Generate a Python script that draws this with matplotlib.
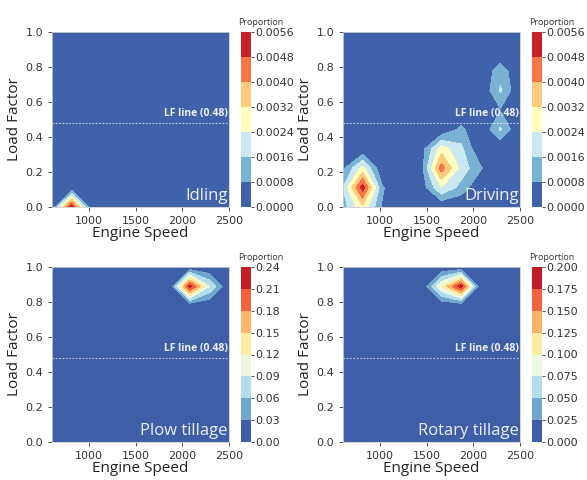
import numpy as np
import matplotlib.pyplot as plt
from matplotlib.ticker import FormatStrFormatter

# grid of bin centres
speed = [600, 811, 1022, 1233, 1444, 1656, 1867, 2078, 2289, 2500]
load = [0.0, 0.111, 0.222, 0.333, 0.444, 0.556, 0.667, 0.778, 0.889, 1.0]

# proportion of time per (load, speed) bin, rows follow `load`
idling = [
    [0, 0.0054, 0, 0, 0, 0, 0, 0, 0, 0],
    [0, 0, 0, 0, 0, 0, 0, 0, 0, 0],
    [0, 0, 0, 0, 0, 0, 0, 0, 0, 0],
    [0, 0, 0, 0, 0, 0, 0, 0, 0, 0],
    [0, 0, 0, 0, 0, 0, 0, 0, 0, 0],
    [0, 0, 0, 0, 0, 0, 0, 0, 0, 0],
    [0, 0, 0, 0, 0, 0, 0, 0, 0, 0],
    [0, 0, 0, 0, 0, 0, 0, 0, 0, 0],
    [0, 0, 0, 0, 0, 0, 0, 0, 0, 0],
    [0, 0, 0, 0, 0, 0, 0, 0, 0, 0],
]
driving = [
    [0.0012, 0.0030, 0.0007, 0, 0, 0, 0, 0, 0, 0],
    [0.0016, 0.0052, 0.0009, 0, 0.0003, 0.0024, 0.0013, 0, 0, 0],
    [0.0006, 0.0027, 0, 0, 0.0005, 0.0044, 0.0021, 0.0009, 0, 0],
    [0, 0, 0, 0, 0.0004, 0.0028, 0.0018, 0, 0, 0],
    [0, 0, 0, 0, 0, 0, 0.0010, 0, 0.0017, 0],
    [0, 0, 0, 0, 0, 0, 0, 0, 0.00075, 0],
    [0, 0, 0, 0, 0, 0, 0, 0, 0.0017, 0],
    [0, 0, 0, 0, 0, 0, 0, 0, 0.0013, 0],
    [0, 0, 0, 0, 0, 0, 0, 0, 0, 0],
    [0, 0, 0, 0, 0, 0, 0, 0, 0, 0],
]
plow = [
    [0, 0, 0, 0, 0, 0, 0, 0, 0, 0],
    [0, 0, 0, 0, 0, 0, 0, 0, 0, 0],
    [0, 0, 0, 0, 0, 0, 0, 0, 0, 0],
    [0, 0, 0, 0, 0, 0, 0, 0, 0, 0],
    [0, 0, 0, 0, 0, 0, 0, 0, 0, 0],
    [0, 0, 0, 0, 0, 0, 0, 0, 0, 0],
    [0, 0, 0, 0, 0, 0, 0, 0, 0, 0],
    [0, 0, 0, 0, 0, 0, 0, 0, 0, 0],
    [0, 0, 0, 0, 0, 0, 0, 0.225, 0.09, 0],
    [0, 0, 0, 0, 0, 0, 0, 0, 0, 0],
]
rotary = [
    [0, 0, 0, 0, 0, 0, 0, 0, 0, 0],
    [0, 0, 0, 0, 0, 0, 0, 0, 0, 0],
    [0, 0, 0, 0, 0, 0, 0, 0, 0, 0],
    [0, 0, 0, 0, 0, 0, 0, 0, 0, 0],
    [0, 0, 0, 0, 0, 0, 0, 0, 0, 0],
    [0, 0, 0, 0, 0, 0, 0, 0, 0, 0],
    [0, 0, 0, 0, 0, 0, 0, 0, 0, 0],
    [0, 0, 0, 0, 0, 0, 0, 0, 0, 0],
    [0, 0, 0, 0, 0, 0.10, 0.19, 0, 0, 0],
    [0, 0, 0, 0, 0, 0, 0, 0, 0, 0],
]

titles = ['Idling', 'Driving', 'Plow tillage', 'Rotary tillage']
grids = [idling, driving, plow, rotary]
cbar_max = [0.0056, 0.0056, 0.24, 0.200]
cbar_bands = [7, 7, 8, 8]
cbar_fmt = ['%.4f', '%.4f', '%.2f', '%.3f']
lf_line = 0.48

label_font = ['Open Sans', 'DejaVu Sans']
tick_color = '#333333'

fig = plt.figure(figsize=(5.87, 4.8), dpi=100)
W, H = 587.0, 480.0

# pixel boxes (left, top) for each panel
panel_pos = [(52, 32), (343, 32), (52, 267), (343, 267)]
ax_w, ax_h = 177, 175

X, Y = np.meshgrid(speed, load)

for k in range(4):
    px, py = panel_pos[k]
    ax = fig.add_axes([px / W, 1 - (py + ax_h) / H, ax_w / W, ax_h / H])
    cax = fig.add_axes([(px + 189) / W, 1 - (py + ax_h) / H, 9.5 / W, ax_h / H])

    Z = np.array(grids[k])
    levels = np.linspace(0, cbar_max[k], cbar_bands[k] + 1)
    cs = ax.contourf(X, Y, Z, levels=levels, cmap='RdYlBu_r')

    ax.set_xlim(600, 2500)
    ax.set_ylim(0, 1)
    ax.set_xticks([1000, 1500, 2000, 2500])
    ax.set_yticks([0.0, 0.2, 0.4, 0.6, 0.8, 1.0])
    ax.yaxis.set_major_formatter(FormatStrFormatter('%.1f'))
    ax.tick_params(labelsize=8, colors=tick_color, length=3, width=0.6)
    for s in ax.spines.values():
        s.set_color('#cccccc')
        s.set_linewidth(0.6)

    ax.set_xlabel('Engine Speed', fontsize=11, family=label_font,
                  color='#222222', labelpad=0)
    ax.set_ylabel('Load Factor', fontsize=11, family=label_font,
                  color='#222222', labelpad=2)

    # reference load factor
    ax.axhline(lf_line, color='white', linestyle=(0, (1.5, 1.5)),
               linewidth=0.8, alpha=0.7)
    ax.text(2490, lf_line + 0.025, 'LF line (%.2f)' % lf_line, fontsize=7.5,
            fontweight='bold', family=label_font, color='white', alpha=0.9,
            ha='right', va='bottom')
    ax.text(2485, 0.015, titles[k], fontsize=12, family=label_font,
            color='white', alpha=0.9, ha='right', va='bottom')

    cb = fig.colorbar(cs, cax=cax, ticks=levels)
    cb.outline.set_visible(False)
    cb.ax.yaxis.set_major_formatter(FormatStrFormatter(cbar_fmt[k]))
    cb.ax.tick_params(labelsize=8, colors=tick_color, length=2.5, width=0.6, pad=1)
    cb.ax.text(-0.35, 1.03, 'Proportion', transform=cb.ax.transAxes,
               fontsize=6.5, family=label_font, color='#333333',
               ha='left', va='bottom')

fig.savefig('out.png', dpi=100)
